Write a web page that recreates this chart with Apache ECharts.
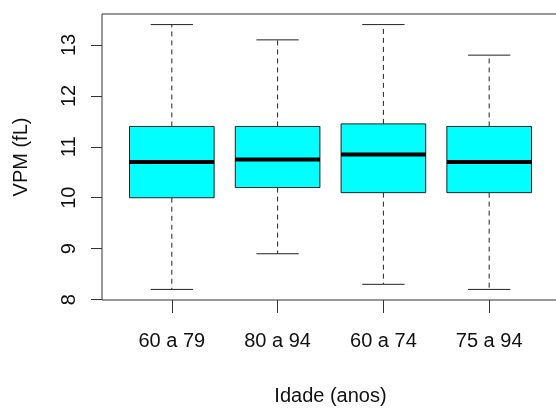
<!DOCTYPE html>
<html>
<head>
<meta charset="utf-8">
<script src="https://cdn.jsdelivr.net/npm/echarts@6/dist/echarts.min.js"></script>
<style>
  html, body { margin: 0; padding: 0; background: #fff; }
  #chart { width: 556px; height: 410px; }
</style>
</head>
<body>
<div id="chart"></div>
<script>
// grupos de idade
var categories = ['60 a 79', '80 a 94', '60 a 74', '75 a 94'];
// estatisticas do boxplot (VPM em fL)
var lowerWhisker = [8.2, 8.9, 8.3, 8.2];
var q1 = [10.0, 10.2, 10.1, 10.1];
var median = [10.7, 10.75, 10.85, 10.7];
var q3 = [11.4, 11.4, 11.45, 11.4];
var upperWhisker = [13.4, 13.1, 13.4, 12.8];
var yTicks = [8, 9, 10, 11, 12, 13];
var xTicks = [1, 2, 3, 4];

var fontFamily = '"Liberation Sans", Arial, sans-serif';

var boxData = categories.map(function (c, i) {
  return [i + 1, lowerWhisker[i], q1[i], median[i], q3[i], upperWhisker[i]];
});

function renderBox(params, api) {
  var x = api.value(0);
  var lo = api.coord([x, api.value(1)]);
  var b1 = api.coord([x, api.value(2)]);
  var md = api.coord([x, api.value(3)]);
  var b3 = api.coord([x, api.value(4)]);
  var hi = api.coord([x, api.value(5)]);
  var boxW = api.size([0.8, 0])[0];
  var capW = api.size([0.4, 0])[0];
  var cx = lo[0];
  var dash = { stroke: '#222', lineWidth: 1, lineDash: [5, 4] };
  var solid = { stroke: '#222', lineWidth: 1 };
  return {
    type: 'group',
    children: [
      { type: 'line', shape: { x1: cx, y1: b3[1], x2: cx, y2: hi[1] }, style: dash },
      { type: 'line', shape: { x1: cx, y1: b1[1], x2: cx, y2: lo[1] }, style: dash },
      { type: 'line', shape: { x1: cx - capW / 2, y1: hi[1], x2: cx + capW / 2, y2: hi[1] }, style: solid },
      { type: 'line', shape: { x1: cx - capW / 2, y1: lo[1], x2: cx + capW / 2, y2: lo[1] }, style: solid },
      {
        type: 'rect',
        shape: { x: cx - boxW / 2, y: b3[1], width: boxW, height: b1[1] - b3[1] },
        style: { fill: '#00ffff', stroke: '#222', lineWidth: 1 }
      },
      {
        type: 'line',
        shape: { x1: cx - boxW / 2, y1: md[1], x2: cx + boxW / 2, y2: md[1] },
        style: { stroke: '#000', lineWidth: 4 }
      }
    ]
  };
}

var chart = echarts.init(document.getElementById('chart'));
chart.setOption({
  animation: false,
  backgroundColor: '#fff',
  grid: {
    left: 102,
    top: 14,
    width: 457,
    height: 286,
    outerBoundsMode: 'none',
    containLabel: false,
    show: true,
    borderColor: '#333',
    borderWidth: 1,
    backgroundColor: 'transparent'
  },
  xAxis: {
    type: 'value',
    min: 0.34,
    max: 4.66,
    name: 'Idade (anos)',
    nameLocation: 'middle',
    nameGap: 86,
    nameTextStyle: { fontFamily: fontFamily, fontSize: 20, color: '#111' },
    splitLine: { show: false },
    axisLine: { show: false },
    axisTick: { show: true, customValues: xTicks, length: 13, lineStyle: { color: '#333' } },
    axisLabel: {
      customValues: xTicks,
      margin: 31,
      fontFamily: fontFamily,
      fontSize: 20,
      color: '#111',
      formatter: function (v) { return categories[Math.round(v) - 1]; }
    }
  },
  yAxis: {
    type: 'value',
    min: 7.992,
    max: 13.608,
    name: 'VPM (fL)',
    nameLocation: 'middle',
    nameGap: 71,
    nameTextStyle: { fontFamily: fontFamily, fontSize: 20, color: '#111' },
    splitLine: { show: false },
    axisLine: { show: false },
    axisTick: { show: true, customValues: yTicks, length: 11, lineStyle: { color: '#333' } },
    axisLabel: {
      customValues: yTicks,
      rotate: 90,
      margin: 23,
      fontFamily: fontFamily,
      fontSize: 20,
      color: '#111'
    }
  },
  series: [{
    type: 'custom',
    renderItem: renderBox,
    data: boxData,
    encode: { x: 0, y: [1, 2, 3, 4, 5] },
    clip: false
  }]
});
</script>
</body>
</html>
